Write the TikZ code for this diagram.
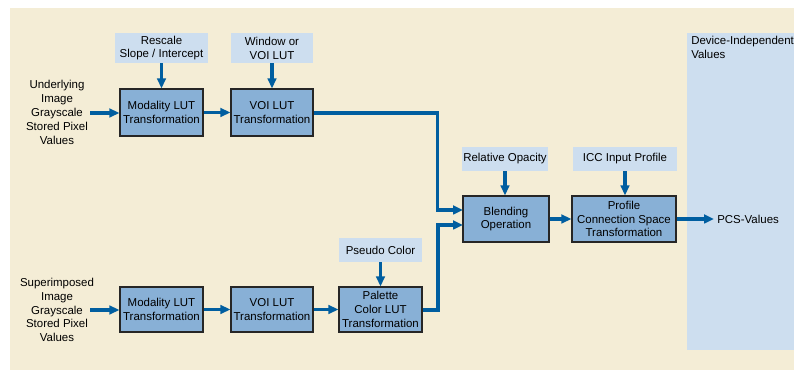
\documentclass[tikz,border=0pt]{standalone}
\usepackage{fontspec}
\setmainfont{Liberation Sans}
\usetikzlibrary{arrows.meta}
\definecolor{bgbeige}{RGB}{244,237,214}
\definecolor{paneblue}{RGB}{205,222,239}
\definecolor{boxblue}{RGB}{136,176,214}
\definecolor{arrowblue}{RGB}{0,94,160}
\tikzset{
  txt/.style={font=\fontsize{8.6}{10.4}\selectfont, align=center, inner sep=0pt},
  procbox/.style={txt, draw=black!85, line width=0.9pt, fill=boxblue},
  parambox/.style={txt, fill=paneblue},
  flow/.style={draw=arrowblue, line width=2.3pt, -{Triangle[length=7.5pt,width=6.5pt]}}
}
\begin{document}
\begin{tikzpicture}[x=0.75pt,y=-0.75pt]
\useasboundingbox (0,0) rectangle (794,373);
\clip (0,0) rectangle (794,373);
% backgrounds
\fill[bgbeige] (10,8) rectangle (794,370);
\fill[paneblue] (687,33) rectangle (794,350);
\node[txt, anchor=north west, align=left] (dev) at (691,36) {Device-Independent\\Values};
% parameter boxes
\node[parambox, minimum width=69.75pt, minimum height=22.5pt] (rescale) at (161.5,48) {Rescale\\Slope / Intercept};
\node[parambox, minimum width=61.5pt, minimum height=22.5pt] (window) at (272,48) {Window or\\VOI LUT};
\node[parambox, minimum width=64.5pt, minimum height=18pt] (relop) at (505,159) {Relative Opacity};
\node[parambox, minimum width=78pt, minimum height=18pt] (icc) at (625,159) {ICC Input Profile};
\node[parambox, minimum width=62.25pt, minimum height=18pt] (pseudo) at (380.5,250) {Pseudo Color};
% process boxes
\node[procbox, minimum width=62.25pt, minimum height=35.25pt] (mod1) at (161.5,112.5) {Modality LUT\\Transformation};
\node[procbox, minimum width=61.5pt, minimum height=35.25pt] (voi1) at (272,112.5) {VOI LUT\\Transformation};
\node[procbox, minimum width=64.5pt, minimum height=34.5pt] (blend) at (506,219) {Blending\\Operation};
\node[procbox, minimum width=78pt, minimum height=34.5pt] (pcs) at (624,219) {Profile\\Connection Space\\Transformation};
\node[procbox, minimum width=62.25pt, minimum height=33.75pt] (mod2) at (161.5,309.5) {Modality LUT\\Transformation};
\node[procbox, minimum width=61.5pt, minimum height=33.75pt] (voi2) at (272,309.5) {VOI LUT\\Transformation};
\node[procbox, minimum width=62.25pt, minimum height=33.75pt] (pal) at (380.5,309.5) {Palette\\Color LUT\\Transformation};
% input texts
\node[txt] (in1) at (57,112.5) {Underlying\\Image\\Grayscale\\Stored Pixel\\Values};
\node[txt] (in2) at (57,310) {Superimposed\\Image\\Grayscale\\Stored Pixel\\Values};
\node[txt, anchor=west] (out) at (717,219) {PCS-Values};
% helper coordinates
\coordinate (s1) at (90,113);
\coordinate (s2) at (90,310);
\coordinate (j1) at (437.5,113);
\coordinate (j2) at (438,310);
\coordinate (b1) at (463,210);
\coordinate (b2) at (463,225);
\coordinate (e1) at (714,219);
% connectors
\draw[flow] (s1) -- (mod1.west |- s1);
\draw[flow] (s2) -- (mod2.west |- s2);
\draw[flow] (rescale.south) -- (mod1.north);
\draw[flow] (window.south) -- (voi1.north);
\draw[flow] (relop.south) -- (blend.north -| relop.south);
\draw[flow] (icc.south) -- (pcs.north -| icc.south);
\draw[flow] (pseudo.south) -- (pal.north);
\draw[flow] (mod1.east) -- (voi1.west);
\draw[flow] (mod2.east) -- (voi2.west);
\draw[flow] (voi2.east) -- (pal.west);
\draw[flow] (voi1.east |- j1) -- (j1) |- (b1);
\draw[flow] (pal.east |- j2) -- (j2) |- (b2);
\draw[flow] (blend.east) -- (pcs.west);
\draw[flow] (pcs.east) -- (e1);
\end{tikzpicture}
\end{document}
